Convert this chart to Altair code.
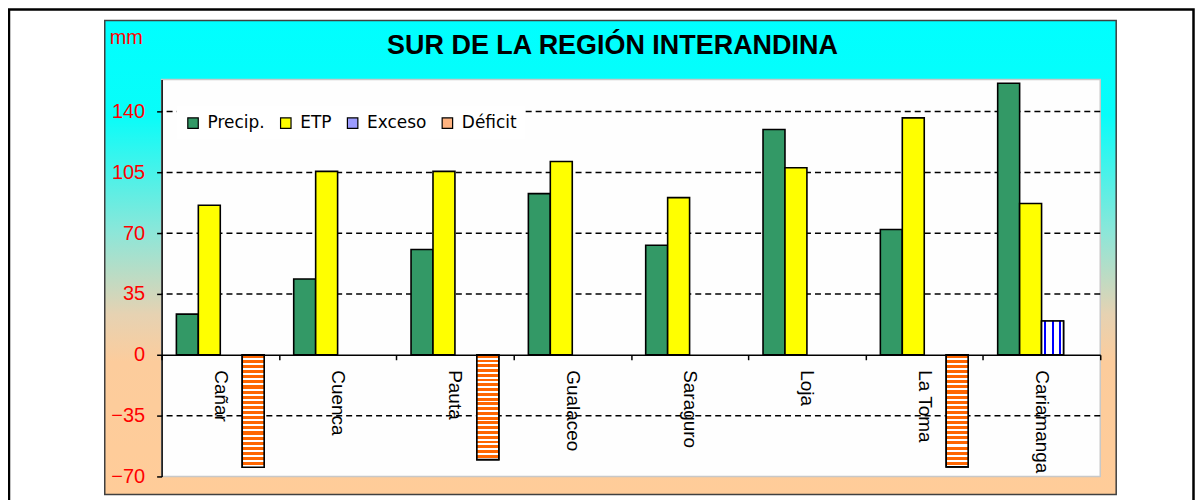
import altair as alt
import pandas as pd

# ---------------- data ----------------
stations = ["Cañar", "Cuenca", "Pauta", "Gualaceo", "Saraguro", "Loja", "La Toma", "Cariamanga"]
series = ["Precip.", "ETP", "Exceso", "Déficit"]
precip = [23.4, 43.6, 60.6, 92.8, 63.1, 129.7, 72.1, 156.3]
etp = [86.1, 105.6, 105.6, 111.3, 90.5, 107.7, 136.4, 87.1]
exceso = [None, None, None, None, None, None, None, 19.5]
deficit = [-64.7, None, -60.3, None, None, None, -64.5, None]
y_ticks = [-70, -35, 0, 35, 70, 105, 140]
grid_values = [-35, 35, 70, 105, 140]
title_text = "SUR DE LA REGIÓN INTERANDINA"
unit_text = "mm"

rows = []
for name, vals in zip(series, [precip, etp, exceso, deficit]):
    for st, v in zip(stations, vals):
        if v is not None:
            rows.append({"station": st, "series": name, "value": v})
df = pd.DataFrame(rows)

# ---------------- styles ----------------
W, H = 941, 398
GREEN, YELLOW, BLUE, ORANGE = "#339966", "#FFFF00", "#0000FF", "#FF6600"
FONT = "Liberation Sans"


def stripe_gradient(color, n, start, stop, vertical_stripes):
    stops = []
    for k in range(n):
        a = k / n
        stops += [
            {"offset": a, "color": "#ffffff"},
            {"offset": a + start / n, "color": "#ffffff"},
            {"offset": a + start / n, "color": color},
            {"offset": a + stop / n, "color": color},
            {"offset": a + stop / n, "color": "#ffffff"},
            {"offset": (k + 1) / n, "color": "#ffffff"},
        ]
    if vertical_stripes:
        return {"gradient": "linear", "x1": 0, "y1": 0, "x2": 1, "y2": 0, "stops": stops}
    return {"gradient": "linear", "x1": 0, "y1": 0, "x2": 0, "y2": 1, "stops": stops}


deficit_fill = stripe_gradient(ORANGE, 22, 0.0, 0.6, False)
exceso_fill = stripe_gradient(BLUE, 3, 0.36, 0.66, True)

bg_fill = {
    "gradient": "linear", "x1": 0, "y1": 0, "x2": 0, "y2": 1,
    "stops": [
        {"offset": 0.0, "color": "#00FFFF"},
        {"offset": 0.2, "color": "#08FDF9"},
        {"offset": 0.45, "color": "#8EE6D8"},
        {"offset": 0.62, "color": "#E6D2B2"},
        {"offset": 0.72, "color": "#FCCC9C"},
        {"offset": 1.0, "color": "#FFCC99"},
    ],
}

one = pd.DataFrame({"k": [0]})

frame = alt.Chart(one).mark_rect(fill="white", stroke="black", strokeWidth=2.5).encode(
    x=alt.value(-153), x2=alt.value(1034.5), y=alt.value(-70), y2=alt.value(460)
)
box = alt.Chart(one).mark_rect(fill=bg_fill, stroke="#404040", strokeWidth=1.5).encode(
    x=alt.value(-57), x2=alt.value(957), y=alt.value(-59), y2=alt.value(416)
)
plot_bg = alt.Chart(one).mark_rect(fill="#FEFEFE", stroke="#C8C8C8", strokeWidth=1.5).encode(
    x=alt.value(0), x2=alt.value(W), y=alt.value(0), y2=alt.value(H)
)

yscale = alt.Scale(domain=[-70, 158.5], nice=False, zero=False)

grid = alt.Chart(pd.DataFrame({"value": grid_values})).mark_rule(
    color="black", strokeWidth=1.5, strokeDash=[6, 4]
).encode(y=alt.Y("value:Q", scale=yscale))

x_enc = alt.X(
    "station:N", sort=stations,
    scale=alt.Scale(paddingInner=0, paddingOuter=0),
    axis=alt.Axis(
        title=None, offset=-122, labelAngle=90, labelAlign="left", labelBaseline="middle",
        labelFont=FONT, labelFontSize=19, labelColor="black", labelPadding=10,
        tickBand="extent", tickSize=5, tickColor="black", tickWidth=1.5,
        domainColor="black", domainWidth=1.5, grid=False, zindex=1,
    ),
)
xo_enc = alt.XOffset(
    "series:N", sort=series,
    scale=alt.Scale(domain=series, paddingInner=0, paddingOuter=0.673),
)
y_enc = alt.Y(
    "value:Q", scale=yscale,
    axis=alt.Axis(
        title=None, values=y_ticks, grid=False, labelColor="#FF0000", labelFont=FONT,
        labelFontSize=20, labelPadding=12, tickSize=5, tickColor="black", tickWidth=1.5,
        domainColor="black", domainWidth=1.5, zindex=1,
    ),
)

bars = alt.Chart(df).mark_bar(stroke="black", strokeWidth=1.6).encode(
    x=x_enc,
    xOffset=xo_enc,
    y=y_enc,
    fill=alt.Fill(
        "series:N", sort=series,
        scale=alt.Scale(domain=series, range=[GREEN, YELLOW, "#9C9CFF", "#FFB380"]),
        legend=alt.Legend(
            title=None, orient="none", legendX=15, legendY=27, direction="horizontal",
            fillColor="white", padding=8, symbolType="square", symbolSize=110,
            symbolStrokeColor="black", symbolStrokeWidth=1.2, symbolOpacity=1,
            labelFont="DejaVu Sans", labelFontSize=17, labelColor="black",
            labelOffset=6, columnPadding=12,
        ),
    ),
)

exc_bars = alt.Chart(df).transform_filter(alt.datum.series == "Exceso").mark_bar(
    fill=exceso_fill, stroke="black", strokeWidth=1.6
).encode(x=alt.X("station:N", sort=stations), xOffset=alt.XOffset("series:N"), y=alt.Y("value:Q"))

def_bars = alt.Chart(df).transform_filter(alt.datum.series == "Déficit").mark_bar(
    fill=deficit_fill, stroke="black", strokeWidth=1.6
).encode(x=alt.X("station:N", sort=stations), xOffset=alt.XOffset("series:N"), y=alt.Y("value:Q"))

title = alt.Chart(one).mark_text(
    text=title_text, font=FONT, fontSize=27, fontWeight="bold", color="black",
    align="center", baseline="alphabetic",
).encode(x=alt.value(452), y=alt.value(-26))

unit = alt.Chart(one).mark_text(
    text=unit_text, font=FONT, fontSize=20, color="#FF0000", align="left", baseline="alphabetic",
).encode(x=alt.value(-52), y=alt.value(-36))

chart = alt.layer(frame, box, plot_bg, grid, bars, exc_bars, def_bars, title, unit).properties(
    width=W, height=H,
    autosize=alt.AutoSizeParams(type="none"),
    padding={"left": 154, "top": 71, "right": 95, "bottom": 23},
    background="white",
).configure_view(stroke=None)

chart.save("out.html", embed_options={"renderer": "svg", "actions": False})
